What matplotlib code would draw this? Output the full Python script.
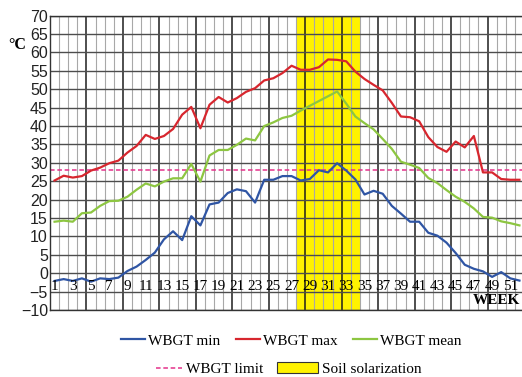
import matplotlib
matplotlib.use("Agg")
import matplotlib.pyplot as plt
import numpy as np
from matplotlib.patches import Patch
from matplotlib.legend_handler import HandlerLine2D

# weekly WBGT values (deg C)
weeks = list(range(1, 53))
wbgt_min = [-2.1, -1.6, -2.1, -1.4, -2.3, -1.4, -1.6, -1.2,
            0.6, 1.8, 3.6, 5.6, 9.2, 11.4, 9.0, 15.5,
            13.0, 18.7, 19.2, 21.8, 22.8, 22.3, 19.2, 25.4,
            25.4, 26.4, 26.4, 25.2, 25.6, 28.0, 27.4, 29.9,
            27.9, 25.5, 21.4, 22.4, 21.6, 18.3, 16.2, 14.0,
            14.0, 11.0, 10.2, 8.3, 5.5, 2.3, 1.2, 0.5,
            -1.0, 0.3, -1.4, -2.0]
wbgt_max = [25.2, 26.5, 26.0, 26.4, 27.9, 28.7, 29.9, 30.6,
            32.8, 34.6, 37.6, 36.5, 37.3, 39.2, 43.1, 45.2,
            39.4, 45.8, 47.9, 46.4, 47.6, 49.3, 50.3, 52.4,
            53.0, 54.4, 56.4, 55.3, 55.3, 56.0, 58.1, 58.0,
            57.6, 54.8, 52.8, 51.2, 49.7, 46.3, 42.6, 42.4,
            41.3, 37.0, 34.3, 33.0, 35.8, 34.2, 37.3, 27.4,
            27.4, 25.6, 25.4, 25.4]
wbgt_mean = [14.0, 14.3, 14.0, 16.3, 16.5, 18.3, 19.6, 19.7,
             20.8, 22.7, 24.4, 23.6, 24.9, 25.8, 25.8, 29.7,
             24.9, 32.0, 33.5, 33.5, 34.9, 36.6, 36.1, 40.0,
             41.0, 42.2, 42.8, 44.2, 45.5, 46.8, 48.1, 49.4,
             46.1, 42.6, 40.8, 39.1, 36.5, 33.8, 30.3, 29.5,
             28.6, 25.9, 24.5, 22.6, 20.8, 19.4, 17.6, 15.3,
             15.1, 14.1, 13.6, 13.0]
wbgt_limit = 28
solarization = (27.5, 34.5)
week_labels = list(range(1, 52, 2))


class ShortLineHandler(HandlerLine2D):
    # dashed handle is shorter than the yellow box next to it
    def get_xdata(self, legend, xdescent, ydescent, width, height, fontsize):
        x = [-xdescent + 0.37 * width, -xdescent + width]
        return x, x


fig = plt.figure(figsize=(5.22, 3.77), dpi=100)
ax = fig.add_axes([50 / 522, 67 / 377, 474 / 522, 294.3 / 377])

ax.axvspan(*solarization, color="#fff200", lw=0, zorder=0.2)
l_limit = ax.axhline(wbgt_limit, color="#e4318a", lw=1.1, ls=(0, (3, 1.8)), zorder=2)
l_min, = ax.plot(weeks, wbgt_min, color="#2f55a4", lw=1.6, zorder=3)
l_max, = ax.plot(weeks, wbgt_max, color="#d7262e", lw=1.6, zorder=3)
l_mean, = ax.plot(weeks, wbgt_mean, color="#8dc641", lw=1.6, zorder=3)

ax.set_xlim(0.5, 52.5)
ax.set_ylim(-10, 70)
ax.set_xticks(np.arange(0.5, 53, 4))
ax.set_xticks(np.arange(0.5, 53, 1), minor=True)
ax.tick_params(axis="x", which="both", length=0, labelbottom=False)
ax.set_yticks(range(-10, 75, 5))
ax.tick_params(axis="y", length=0, pad=1.5, labelsize=11.5, labelcolor="#222222")
for lab in ax.get_yticklabels():
    lab.set_family("Liberation Sans")

ax.grid(axis="x", which="major", color="#1e1e1e", lw=1.1)
ax.grid(axis="x", which="minor", color="#a8a8a8", lw=0.8)
ax.grid(axis="y", which="major", color="#4d4d4d", lw=1.0)
ax.set_axisbelow(True)
for sp in ax.spines.values():
    sp.set_color("#333333")
    sp.set_linewidth(1.0)

# week numbers sit inside the plot, just under the zero line
for w in week_labels:
    ax.text(w, -3.5, str(w), ha="center", va="center", fontsize=11,
            family="Liberation Serif", zorder=4)

fig.text(0.032, 0.881, "°C", ha="center", va="center", fontsize=11.5,
         fontweight="bold", family="Liberation Serif")
fig.text(0.997, 0.203, "WEEK", ha="right", va="center", fontsize=11,
         fontweight="bold", family="Liberation Serif")

leg_font = {"family": "Liberation Serif", "size": 11}
fig.legend([l_min, l_max, l_mean], ["WBGT min", "WBGT max", "WBGT mean"],
           loc="center", bbox_to_anchor=(0.558, 0.096), ncol=3, frameon=False,
           prop=leg_font, handlelength=1.57, handletextpad=0.2,
           columnspacing=1.0, borderpad=0, borderaxespad=0)
solar_patch = Patch(facecolor="#fff200", edgecolor="#333333", lw=0.8)
fig.legend([l_limit, solar_patch], ["WBGT limit", "Soil solarization"],
           loc="center", bbox_to_anchor=(0.539, 0.021), ncol=2, frameon=False,
           prop=leg_font, handlelength=2.7, handletextpad=0.3,
           columnspacing=0.85, borderpad=0, borderaxespad=0,
           handler_map={l_limit: ShortLineHandler()})

fig.savefig("out.png", dpi=100)
